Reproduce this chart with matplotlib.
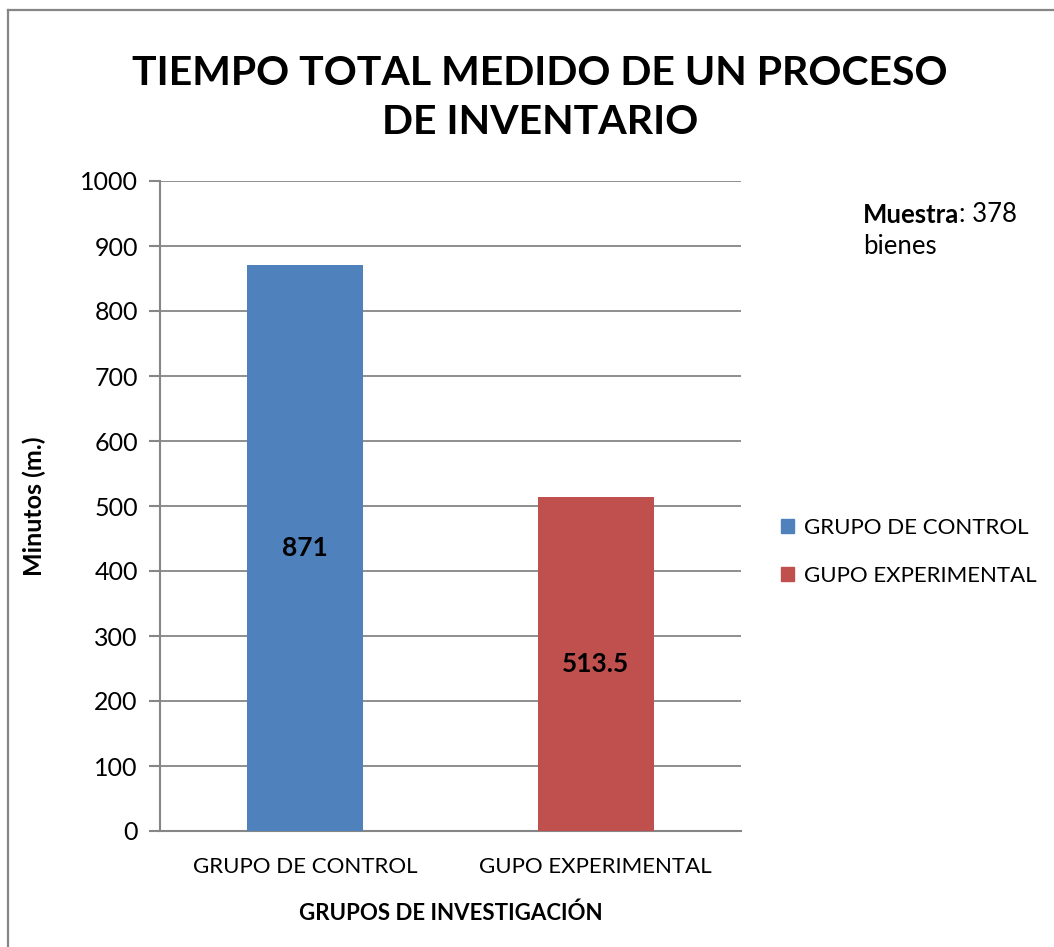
import matplotlib.pyplot as plt
from matplotlib.lines import Line2D
from matplotlib.patches import Patch

plt.rcParams['font.family'] = ['Lato', 'DejaVu Sans']

# Tiempo total por grupo
grupos = ['GRUPO DE CONTROL', 'GUPO EXPERIMENTAL']
minutos = [871, 513.5]
etiquetas = ['871', '513.5']
colores = ['#4f81bd', '#c0504d']
gris = '#868686'

fig = plt.figure(figsize=(10.54, 9.47), dpi=100)
ax = fig.add_axes([160 / 1054, 1 - 831 / 947, (741 - 160) / 1054, (831 - 181) / 947])

x = range(len(grupos))
ax.bar(x, minutos, width=0.4, color=colores, zorder=3)
for xi, v, txt in zip(x, minutos, etiquetas):
    ax.text(xi, v / 2, txt, ha='center', va='center', fontsize=19, fontweight='bold', zorder=4)

ax.set_xlim(-0.5, 1.5)
ax.set_ylim(0, 1000)
ax.set_yticks(range(0, 1001, 100))
ax.set_xticks(list(x))
ax.set_xticklabels(grupos, fontsize=16)
ax.tick_params(axis='x', length=0, pad=19)
ax.tick_params(axis='y', labelsize=18, length=8, color=gris, width=1.5, pad=8)
ax.grid(axis='y', color=gris, linewidth=1.3, zorder=0)
for s in ['top', 'right']:
    ax.spines[s].set_visible(False)
for s in ['left', 'bottom']:
    ax.spines[s].set_color(gris)
    ax.spines[s].set_linewidth(1.5)

ax.set_ylabel('Minutos (m.)', fontsize=18, fontweight='bold', labelpad=24)
ax.set_xlabel('GRUPOS DE INVESTIGACIÓN', fontsize=16, fontweight='bold', labelpad=18)

fig.text(540 / 1054, 1 - 98 / 947, 'TIEMPO TOTAL MEDIDO DE UN PROCESO\nDE INVENTARIO',
         ha='center', va='center', fontsize=29.5, fontweight='bold', linespacing=1.38)

# nota de muestra: "Muestra" en negrita y el resto normal
y1 = 1 - 215 / 947
t = fig.text(863 / 1054, y1, 'Muestra', fontsize=18.5, fontweight='bold', va='center')
fig.canvas.draw()
bb = t.get_window_extent().transformed(fig.transFigure.inverted())
fig.text(bb.x1, y1, ': 378', fontsize=18.5, va='center')
fig.text(863 / 1054, 1 - 246 / 947, 'bienes', fontsize=18.5, va='center')

handles = [Patch(color=c) for c in colores]
fig.legend(handles, grupos, loc='center left', bbox_to_anchor=(772 / 1054, 1 - 552 / 947),
           frameon=False, fontsize=16, handlelength=0.6, handleheight=0.6,
           handletextpad=0.45, labelspacing=1.25, borderaxespad=0)

# marco del gráfico
fig.add_artist(Line2D([7.5 / 1054, 1], [1 - 10 / 947, 1 - 10 / 947], color=gris, linewidth=1.6))
fig.add_artist(Line2D([7.5 / 1054, 7.5 / 1054], [0, 1 - 10 / 947], color=gris, linewidth=1.6))

fig.savefig('out.png', dpi=100, facecolor='white')
